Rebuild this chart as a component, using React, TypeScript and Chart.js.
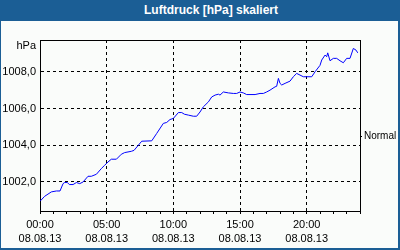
import React, { useEffect, useRef } from "react";
import { Chart, registerables } from "chart.js";

Chart.register(...registerables);

const chartTitle = "Luftdruck [hPa] skaliert";
const unitLabel = "hPa";
const unitTickValue = 1009.42;
const normalLabel = "Normal";
const normalValue = 1004.47;
const dateLabel = "08.08.13";
const xMajorHours = [0, 5, 10, 15, 20];
const xMajorTimes = ["00:00", "05:00", "10:00", "15:00", "20:00"];
const yTickValues = [1002, 1004, 1006, 1008];
const yMin = 1000.42;
const yMax = 1009.73;
const xMin = 0;
const xMax = 24;

const hours = [
  0.0, 0.35, 0.85, 1.23, 1.5, 1.73, 1.85, 2.05, 2.2, 2.48, 2.73, 2.98, 3.23, 3.6, 3.85, 4.23,
  4.6, 4.85, 5.1, 5.35, 5.73, 6.1, 6.35, 6.85, 7.05, 7.63, 8.38, 8.75, 9.25, 9.5, 9.75, 10.0,
  10.38, 10.63, 10.83, 11.13, 11.5, 11.75, 12.0, 12.25, 12.63, 12.88, 13.13, 13.38, 13.5, 13.75,
  14.13, 14.5, 14.75, 15.0, 15.25, 15.5, 16.13, 16.5, 16.75, 17.0, 17.25, 17.63, 17.75, 17.88,
  18.0, 18.13, 18.38, 18.75, 19.0, 19.25, 19.5, 19.75, 20.38, 20.63, 21.0, 21.13, 21.38, 21.5,
  21.58, 21.75, 22.0, 22.25, 22.5, 22.75, 23.0, 23.25, 23.5, 23.7, 23.83,
];

const pressure = [
  1000.95, 1001.22, 1001.46, 1001.51, 1001.51, 1001.91, 1001.97, 1001.97, 1001.86, 1001.86,
  1001.97, 1001.91, 1002.0, 1002.31, 1002.31, 1002.42, 1002.73, 1002.91, 1003.09, 1003.24,
  1003.24, 1003.51, 1003.6, 1003.67, 1003.72, 1004.22, 1004.24, 1004.64, 1005.19, 1005.24,
  1005.4, 1005.46, 1005.78, 1005.78, 1005.69, 1005.64, 1005.58, 1005.58, 1005.81, 1006.09,
  1006.36, 1006.63, 1006.73, 1006.78, 1006.73, 1006.9, 1006.85, 1006.82, 1006.82, 1006.9,
  1006.85, 1006.76, 1006.76, 1006.82, 1006.82, 1006.9, 1007.0, 1007.18, 1007.21, 1007.64,
  1007.37, 1007.28, 1007.37, 1007.49, 1007.73, 1007.91, 1007.82, 1007.73, 1007.73, 1008.0,
  1008.35, 1008.64, 1008.91, 1008.82, 1009.03, 1008.6, 1008.73, 1008.73, 1008.6, 1008.49,
  1008.73, 1008.73, 1009.27, 1009.18, 1009.03,
];

const FONT = "'Liberation Sans', Arial, sans-serif";

export default function App() {
  const ref = useRef<HTMLCanvasElement>(null);

  useEffect(() => {
    document.body.style.margin = "0";
    const canvas = ref.current;
    if (!canvas) return;
    const data = hours.map((h, i) => ({ x: h, y: pressure[i] }));
    const font = { family: FONT, size: 11, lineHeight: 1.3 };
    const chart = new Chart(canvas, {
      type: "line",
      data: {
        datasets: [
          {
            data,
            borderColor: "#0000ff",
            borderWidth: 1,
            pointRadius: 0,
            tension: 0,
            fill: false,
          },
        ],
      },
      options: {
        animation: false,
        responsive: false,
        devicePixelRatio: 1,
        layout: { padding: 0 },
        plugins: {
          legend: { display: false },
          tooltip: { enabled: false },
          title: { display: false },
        },
        scales: {
          x: {
            type: "linear",
            position: "bottom",
            min: xMin,
            max: xMax,
            afterBuildTicks: (s: any) => {
              const t = [];
              for (let v = xMin; v <= xMax; v++) t.push({ value: v });
              s.ticks = t;
            },
            afterFit: (s: any) => {
              s.height = 37;
            },
            ticks: {
              autoSkip: false,
              maxRotation: 0,
              minRotation: 0,
              color: "#000",
              font,
              padding: 4,
              callback: (v: any) => {
                const i = xMajorHours.indexOf(Number(v));
                return i >= 0 ? [xMajorTimes[i], dateLabel] : "";
              },
            },
            grid: {
              color: (c: any) => {
                const v = c.tick ? c.tick.value : -1;
                return xMajorHours.includes(v) && v > xMin ? "#000" : "rgba(0,0,0,0)";
              },
              tickColor: "#000",
              tickLength: 3,
              lineWidth: 1,
              drawTicks: true,
            },
            border: { display: true, color: "#000", width: 1, dash: [3, 3] },
          },
          x2: {
            type: "linear",
            position: "top",
            min: xMin,
            max: xMax,
            afterFit: (s: any) => {
              s.height = 19;
            },
            ticks: { display: false },
            grid: { display: false, drawTicks: false },
            border: { display: true, color: "#000", width: 1 },
          },
          y: {
            type: "linear",
            position: "left",
            min: yMin,
            max: yMax,
            afterBuildTicks: (s: any) => {
              s.ticks = [...yTickValues, unitTickValue].map((v) => ({ value: v }));
            },
            afterFit: (s: any) => {
              s.width = 39;
            },
            ticks: {
              color: "#000",
              font,
              padding: 4,
              callback: (v: any) =>
                Number(v) === unitTickValue ? unitLabel : Number(v).toFixed(1).replace(".", ","),
            },
            grid: {
              color: (c: any) =>
                c.tick && yTickValues.includes(c.tick.value) ? "#000" : "rgba(0,0,0,0)",
              lineWidth: 1,
              drawTicks: false,
            },
            border: { display: true, color: "#000", width: 1, dash: [3, 3] },
          },
          y2: {
            type: "linear",
            position: "right",
            min: yMin,
            max: yMax,
            afterBuildTicks: (s: any) => {
              s.ticks = [{ value: normalValue }];
            },
            afterFit: (s: any) => {
              s.width = 38;
            },
            ticks: {
              color: "#000",
              font: { family: FONT, size: 10 },
              padding: 2,
              callback: () => normalLabel,
            },
            grid: {
              drawOnChartArea: false,
              color: "#000",
              tickColor: "#000",
              tickLength: 2,
              drawTicks: true,
            },
            border: { display: true, color: "#000", width: 1 },
          },
        },
      },
    });
    return () => chart.destroy();
  }, []);

  return (
    <div
      style={{
        position: "fixed",
        left: 0,
        top: 0,
        width: 400,
        height: 250,
        background: "#1b5e95",
        overflow: "hidden",
      }}
    >
      <div
        style={{
          position: "absolute",
          left: 0,
          top: 0,
          width: 400,
          height: 21,
          boxSizing: "border-box",
          paddingLeft: 22,
          color: "#fff",
          fontFamily: FONT,
          fontWeight: "bold",
          fontSize: 12,
          lineHeight: "21px",
          textAlign: "center",
        }}
      >
        {chartTitle}
      </div>
      <div
        style={{
          position: "absolute",
          left: 1,
          top: 21,
          width: 397,
          height: 227,
          background: "#fafcfa",
        }}
      >
        <canvas ref={ref} width={397} height={227} style={{ display: "block" }} />
      </div>
    </div>
  );
}
